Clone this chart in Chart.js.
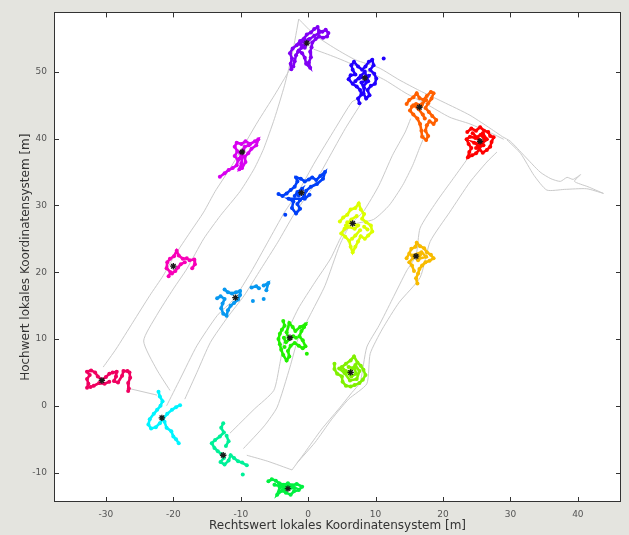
<!DOCTYPE html>
<html><head><meta charset="utf-8">
<script src="https://cdn.jsdelivr.net/npm/chart.js@4/dist/chart.umd.min.js"></script>
<style>html,body{margin:0;padding:0;background:#e4e4df;}#wrap{width:629px;height:535px;}</style>
</head><body><div id="wrap"><canvas id="c" width="629" height="535"></canvas></div>
<script>
// ---- axis ticks ----
const xTicks = [-30, -20, -10, 0, 10, 20, 30, 40];
const yTicks = [-10, 0, 10, 20, 30, 40, 50];
const xTitle = 'Rechtswert lokales Koordinatensystem [m]';
const yTitle = 'Hochwert lokales Koordinatensystem [m]';

// ---- cluster colours (16 stations) ----
const clusterColors = ['#8000f4','#2000ff','#ff6000','#ff0000','#d800f0','#0040f8','#dcff00','#f8bb00',
                       '#f800b8','#0898f0','#22f000','#80f000','#f00060','#00f4ff','#00f098','#00f040'];

// ---- station centres ----
const centers = [[-0.2,54.3],[8.4,49.1],[16.5,44.7],[25.5,39.6],[-9.8,38.0],[-1.0,31.9],[6.6,27.3],[16.0,22.4],
                 [-20.0,20.9],[-10.8,16.2],[-2.7,10.2],[6.3,5.0],[-30.6,3.8],[-21.7,-1.8],[-12.6,-7.4],[-3.0,-12.4]];

// ---- measured positions per station ----
const c01 = [[-2.5,50.4],[-2.6,51.2],[-2.4,52.0],[-2.7,52.8],[-2.3,53.5],[-1.7,54.0],[-1.2,54.6],[-0.6,55.0],[-0.2,55.6],[0.4,55.9],[0.9,56.4],[1.4,56.7],[1.6,56.1],[2.1,56.0],[2.6,56.3],[3.0,55.8],[2.8,55.3],[2.2,55.1],[1.6,55.3],[1.1,54.9],[0.6,54.4],[0.5,53.7],[0.3,53.0],[0.4,52.2],[0.1,51.4],[0.3,50.6],[-0.3,51.2],[-0.5,52.1],[-0.9,52.8],[-1.4,53.2],[-1.8,52.5],[-2.0,51.6],[-2.2,50.8],null,[-0.8,53.9],[-1.3,54.2],[-0.5,54.6],[0.0,54.8],[-0.5,53.6],null,[-1.5,53.0],[-1.0,53.6],[-0.4,54.2],[0.2,54.9],[0.9,55.4],[1.6,55.8]];
const c02 = [[7.6,45.3],[7.4,46.0],[7.9,46.6],[7.7,47.3],[7.2,47.8],[6.6,48.2],[6.0,48.9],[6.3,49.5],[7.0,49.6],[6.6,50.3],[6.4,51.0],[6.8,51.5],[7.4,50.8],[8.0,50.3],[8.5,50.8],[9.0,51.5],[9.5,51.8],[9.7,51.0],[9.2,50.3],[9.8,49.7],[10.1,49.0],[9.9,48.2],[9.3,47.9],[8.8,47.3],[9.1,46.5],[8.6,46.0],[8.2,46.8],[8.3,47.6],[7.9,48.4],[8.6,48.7],[9.0,49.4],[7.5,49.0],null,[7.0,48.6],[7.8,49.4],[8.4,50.0],[8.9,48.6],[8.2,47.9],null,[11.2,52.0]];
const c03 = [[14.6,45.2],[15.0,45.8],[15.6,46.2],[16.1,46.8],[16.5,46.1],[17.1,45.8],[17.6,46.4],[18.2,47.0],[18.6,46.8],[18.3,46.0],[17.8,45.3],[17.4,44.6],[17.9,44.0],[18.4,43.4],[19.0,42.8],[18.6,42.2],[18.0,42.6],[17.6,42.0],[17.4,41.2],[17.8,40.4],[17.5,39.8],[16.9,40.3],[16.8,41.2],[16.6,42.2],[16.2,43.0],[15.6,43.6],[15.1,44.2],[15.4,44.8],[16.0,45.2],[16.8,45.0],null,[15.6,45.0],[16.4,44.4],[17.0,43.6],[17.3,43.0],null,[16.9,45.2],[17.5,45.8]];
const c04 = [[23.6,41.0],[24.2,41.5],[24.9,41.2],[25.5,41.7],[26.1,41.2],[26.7,41.0],[27.0,40.4],[27.5,40.2],[27.2,39.5],[27.0,38.8],[26.5,38.3],[25.9,37.9],[25.4,38.4],[24.9,37.8],[24.3,37.5],[23.7,37.2],[23.9,38.0],[24.2,38.6],[23.8,39.2],[23.5,39.9],[24.0,40.3],[24.8,40.1],[25.6,40.6],[26.2,39.8],[25.2,39.0],[24.6,39.4],[26.0,39.0],null,[24.4,40.8],[25.2,40.0],[25.8,39.3],[26.5,39.9],[25.9,40.8],null,[24.9,38.6],[25.6,38.9]];
const c05 = [[-13.1,34.3],[-12.4,34.8],[-11.8,35.3],[-11.2,35.6],[-10.6,36.0],[-10.4,36.8],[-10.9,37.4],[-10.5,38.1],[-10.9,38.8],[-10.6,39.4],[-9.9,39.2],[-9.3,39.6],[-8.6,39.2],[-7.9,39.6],[-7.4,39.9],[-7.7,39.0],[-8.4,38.5],[-8.9,37.8],[-9.4,37.3],[-9.3,36.5],[-9.8,35.6],[-10.2,35.4],[-9.9,36.3],[-9.6,38.3],[-10.1,37.9],null,[-10.2,37.0],[-9.4,38.8],[-8.8,39.0]];
const c06 = [[-4.4,31.7],[-3.8,31.4],[-3.2,31.8],[-2.6,32.3],[-2.0,32.8],[-1.6,33.6],[-1.8,34.2],[-1.1,34.0],[-0.5,33.6],[0.1,33.9],[0.6,34.2],[1.2,33.8],[1.8,34.4],[2.5,35.0],[2.2,34.0],[1.3,33.2],[0.4,32.8],[-0.3,32.2],[-0.6,31.4],[-1.2,30.8],[-1.6,30.2],[-1.2,29.5],[-1.8,28.8],[-2.4,29.6],[-2.2,30.6],[-2.9,31.0],[-0.5,31.0],[0.2,31.6],null,[-1.4,31.5],[-0.9,32.5],[-1.6,32.0],[-2.0,31.4],null,[-3.4,28.6]];
const c07 = [[4.7,27.6],[5.2,28.2],[5.8,28.6],[6.3,29.4],[7.0,29.6],[7.5,30.3],[7.8,29.4],[8.3,28.7],[8.0,28.0],[8.6,27.5],[9.3,27.0],[9.5,26.1],[8.9,25.5],[8.4,25.0],[7.8,25.4],[7.4,24.6],[7.0,23.8],[6.6,23.0],[6.3,23.8],[6.1,24.7],[5.5,25.3],[4.9,25.8],[5.4,26.5],[6.0,26.8],[6.9,26.5],[7.4,27.0],[5.8,27.5],null,[5.6,27.0],[6.4,27.9],[7.2,28.4],null,[7.7,26.3],[7.0,25.5],[6.5,25.0],null,[8.3,26.8],[8.8,26.4]];
const c08 = [[14.6,22.1],[15.0,22.8],[15.3,23.5],[15.9,23.8],[16.1,24.4],[16.6,23.9],[17.2,23.6],[17.6,23.0],[18.2,22.6],[18.6,22.1],[18.0,21.7],[17.4,21.5],[16.9,21.0],[16.5,20.5],[16.3,19.8],[16.0,19.1],[16.2,18.3],null,[15.7,20.2],[15.4,21.0],[15.0,21.5],[15.6,22.2],[16.6,22.6],[16.3,21.8],null,[15.4,22.5],[16.8,23.0],[17.5,22.3],[16.4,22.0]];
const c09 = [[-20.7,19.4],[-20.4,20.0],[-21.0,20.6],[-20.9,21.5],[-20.5,22.0],[-19.9,22.4],[-19.5,23.2],[-19.2,22.5],[-18.6,22.0],[-18.0,22.1],null,[-17.6,21.8],[-16.9,21.9],[-16.8,21.2],[-17.2,20.6],null,[-18.3,21.5],[-18.9,21.2],[-19.3,20.7],[-19.7,20.2],[-20.2,19.8]];
const c10 = [[-13.5,16.1],[-13.0,16.4],[-12.4,16.0],[-12.7,15.3],[-12.9,14.6],[-12.6,13.8],[-12.1,13.5],[-11.9,14.3],[-11.5,15.0],[-11.0,15.4],[-10.4,15.9],[-10.1,16.6],[-10.1,17.2],[-10.7,17.0],[-11.3,16.8],[-11.9,17.0],[-12.4,17.4],null,[-8.4,17.7],[-7.7,17.9],[-7.3,17.6],null,[-6.6,18.0],[-5.9,18.4],[-6.2,17.3],null,[-6.6,16.0],null,[-8.2,15.7]];
const c11 = [[-3.7,12.7],[-3.5,12.0],[-3.9,11.4],[-4.2,10.8],[-4.4,10.0],[-4.2,9.2],[-4.0,8.4],[-3.7,7.6],[-3.2,6.8],[-2.8,7.4],[-3.0,8.2],[-2.6,9.0],[-2.0,9.4],[-1.4,9.0],[-0.8,8.6],[-0.4,8.9],[-0.8,9.8],[-1.3,10.4],[-1.0,11.2],[-0.6,11.8],[-0.4,12.2],[-1.2,11.8],[-1.9,11.2],[-2.3,11.8],[-2.8,12.4],[-3.2,11.0],[-2.9,10.1],null,[-3.6,10.2],[-3.3,9.5],[-2.2,10.4],[-1.8,10.2],null,[-3.5,8.8],null,[-0.2,7.8]];
const c12 = [[3.9,6.3],[3.9,5.5],[4.3,4.8],[5.0,4.4],[5.1,3.6],[5.6,3.0],[6.3,2.9],[6.9,3.1],[7.6,3.4],[8.1,3.9],[8.5,4.6],[8.2,5.4],[7.8,6.0],[7.3,6.5],[6.8,7.4],[6.3,6.8],[5.6,6.3],[5.0,5.8],[5.6,5.2],[6.4,4.4],[7.1,4.8],[6.9,5.6],[6.0,5.8],null,[4.6,5.6],[5.4,4.9],[6.2,3.8],[7.2,4.0],[7.6,5.2],[7.0,6.1],[6.1,5.1]];
const c13 = [[-32.8,2.7],[-32.6,3.3],[-32.8,4.0],[-32.4,4.6],[-32.8,5.1],[-32.2,5.3],[-31.6,5.0],[-31.2,4.4],[-30.6,3.9],[-30.0,4.3],[-29.5,4.8],[-29.0,5.0],[-28.4,5.1],[-28.5,4.4],[-28.8,3.7],[-28.2,3.5],[-27.6,4.5],[-27.4,5.2],[-26.8,5.2],[-26.5,5.0],[-26.4,4.2],[-26.7,3.4],[-26.6,2.6],[-26.7,2.2],null,[-29.5,3.6],[-30.2,3.3],[-31.0,3.4],[-31.8,3.0],[-32.3,2.8]];
const c14 = [[-22.2,2.1],[-22.0,1.4],[-21.6,0.7],[-21.9,0.0],[-22.4,-0.6],[-22.9,-1.2],[-23.5,-2.0],[-23.7,-2.8],[-23.3,-3.4],[-22.6,-3.2],[-22.0,-2.6],[-21.5,-1.9],[-20.9,-1.2],[-20.2,-0.6],[-19.6,-0.2],[-19.0,0.1],null,[-21.3,-2.4],[-21.0,-3.3],[-20.3,-3.8],[-20.0,-4.6],[-19.6,-5.0],[-19.2,-5.6]];
const c15 = [[-12.6,-2.6],[-12.9,-3.3],[-12.5,-4.0],[-13.1,-4.6],[-13.8,-5.1],[-14.3,-5.6],[-13.9,-6.3],[-13.4,-6.8],[-12.9,-7.2],[-12.5,-7.8],[-13.0,-8.4],[-12.4,-8.8],[-11.8,-8.2],[-11.5,-7.4],[-11.0,-7.8],[-10.4,-8.3],[-9.8,-8.5],[-9.1,-8.9],null,[-12.2,-6.0],[-11.8,-5.3],[-12.1,-4.5],null,[-9.7,-10.3]];
const c16 = [[-5.9,-11.3],[-5.4,-11.0],[-4.8,-11.2],[-4.3,-11.6],[-3.6,-11.8],[-3.0,-11.6],[-2.4,-11.9],[-1.7,-11.7],[-0.9,-12.1],[-1.4,-12.6],[-2.1,-12.8],[-2.6,-13.3],[-3.3,-13.0],[-3.9,-12.7],[-4.6,-13.3],[-4.2,-12.2],[-3.1,-12.3],[-5.0,-11.8],null,[-4.0,-11.9],[-2.8,-12.0],[-2.0,-12.3],[-3.6,-12.5]];
const clusters = [c01,c02,c03,c04,c05,c06,c07,c08,c09,c10,c11,c12,c13,c14,c15,c16];

// ---- walked tracks between stations ----
const trackA1 = [[-30.4,5.8],[-28.5,8.5],[-26,12.5],[-23.5,16.5],[-21.5,19.5],[-19.8,22.5],[-17.5,26],[-15.5,29],[-13.8,32.1],[-11.8,35.2],[-10,38.2],[-7.5,42.5],[-5,46.5],[-2.7,50.4]];
const trackA2 = [[-20.5,2.3],[-22.5,5.5],[-24.4,9.7],[-22.5,13.5],[-20,17.5],[-18,20.5],[-15.5,25],[-13,28.5],[-10.1,32.1],[-8,35.5],[-6.6,38.5],[-5,43],[-3.5,48],[-2.3,53],[-1.4,57.9]];
const trackB1 = [[-21,0],[-19,4],[-16.5,9],[-13.5,13.5],[-11,16],[-8.5,20],[-6,24.5],[-3.5,29],[-1.5,32],[1,36.5],[4,41.5],[6.5,45.5],[7.5,46]];
const trackB2 = [[-18.3,1.0],[-16.5,5],[-14.5,9.5],[-12,13.2],[-9.5,16.5],[-7,20.5],[-4.5,24.5],[-2.2,28.5],[0.5,32.5],[3,37],[5.5,41.5],[8,45.5]];
const trackC1 = [[-11.6,-4.1],[-8,-0.5],[-5.1,2.3],[-4.2,6.3],[-3.5,10],[-1.5,14.5],[1,18.5],[3.3,22],[5,25.5],[6.6,27.5],[8.2,29.1],[10.5,33],[12.5,37.5],[14.4,41],[15.2,43]];
const trackC2 = [[-9.6,-6.4],[-6.5,-3],[-4.6,-0.2],[-2.7,5.8],[-1.5,10],[0.5,14],[2.5,18],[4.7,24.1],[6.3,27],[9.7,27.9],[12,30],[14,33],[15.5,36],[16.6,38.8],[17.3,40.5]];
const trackD1 = [[-2.4,-9.6],[-0.5,-7],[2,-3.5],[4.5,-0.5],[6.5,2],[7.7,3.5],[8.7,8.8],[10.5,12],[12.5,16],[14.6,20.2],[16,22.5],[16.6,26.6],[19,30.5],[21.5,34],[24,37.5]];
const trackD2 = [[-1.7,-8.6],[1,-5.5],[3.5,-2],[6,1],[8.7,3.3],[9.2,7.8],[11,11.5],[13.5,15.5],[16.6,19.2],[18.1,24.6],[21,29],[24,33.5],[26.5,36.5],[28,38]];
const trackTop1 = [[-1.4,57.9],[1.0,55.5],[4,53.5],[7,51.8],[10.5,50.6],[13.5,48.8],[16.5,47.2],[20,45.5],[24,43.5],[27.5,41.2],[28.8,40.3]];
const trackTop2 = [[0.8,53.4],[4,52.2],[8,50.5],[11.5,48.7],[14.5,46.8],[17.5,45.2],[21,43.2],[24,42.2],[27.2,40.8],[29.0,39.9]];
const trackTail1 = [[28.8,40.3],[30,39.6],[32,37.5],[34.4,35.0],[36,34.0],[37.4,33.6],[38.4,34.2],[39.3,33.9],[40.4,34.6],[39.5,33.6],[41.5,32.8],[43.8,31.8]];
const trackTail2 = [[29.5,39.8],[31.5,37.8],[33.5,34.5],[35.4,32.3],[38,32.4],[41.3,32.5],[43.8,31.8]];
const trackBottom1 = [[-26.6,2.6],[-24.5,2.1],[-22.4,1.6]];
const trackBottom2 = [[-9.1,-7.4],[-6,-8.3],[-2.4,-9.6]];
const tracks = [trackA1,trackA2,trackB1,trackB2,trackC1,trackC2,trackD1,trackD2,trackTop1,trackTop2,trackTail1,trackTail2,trackBottom1,trackBottom2];

const toXY = arr => arr.map(p => p ? {x:p[0], y:p[1]} : {x:null, y:null});

const datasets = [];
tracks.forEach(t => datasets.push({
  data: toXY(t), showLine: true, borderColor: '#cacaca', borderWidth: 1,
  pointRadius: 0, tension: 0.2, order: 3
}));
clusters.forEach((c, i) => datasets.push({
  data: toXY(c), showLine: true, spanGaps: false, borderColor: clusterColors[i], borderWidth: 2.6,
  pointRadius: 2.0, pointBackgroundColor: clusterColors[i], pointBorderWidth: 0, order: 2
}));
datasets.push({
  data: toXY(centers), showLine: false, pointStyle: 'star', pointRadius: 3.2,
  borderColor: '#1a1a1a', pointBorderColor: '#1a1a1a', pointBorderWidth: 1.3, order: 1
});

const boxPlugin = {
  id: 'box',
  beforeDraw(chart) {
    const {ctx, chartArea: a} = chart;
    ctx.save(); ctx.fillStyle = '#ffffff';
    ctx.fillRect(a.left, a.top, a.right - a.left, a.bottom - a.top); ctx.restore();
  },
  afterDraw(chart) {
    const {ctx, chartArea: a, scales: {x, y}} = chart;
    ctx.save(); ctx.strokeStyle = '#333'; ctx.lineWidth = 1; ctx.beginPath();
    x.ticks.forEach(t => { const p = Math.round(x.getPixelForValue(t.value)) + 0.5;
      ctx.moveTo(p, a.bottom); ctx.lineTo(p, a.bottom - 5); ctx.moveTo(p, a.top); ctx.lineTo(p, a.top + 5); });
    y.ticks.forEach(t => { const p = Math.round(y.getPixelForValue(t.value)) + 0.5;
      ctx.moveTo(a.left, p); ctx.lineTo(a.left + 5, p); ctx.moveTo(a.right, p); ctx.lineTo(a.right - 5, p); });
    ctx.stroke();
    ctx.strokeRect(Math.round(a.left) + 0.5, Math.round(a.top) + 0.5, Math.round(a.right - a.left) - 1, Math.round(a.bottom - a.top) - 1);
    ctx.restore();
  }
};

new Chart(document.getElementById('c'), {
  type: 'scatter',
  data: { datasets },
  plugins: [boxPlugin],
  options: {
    responsive: false, animation: false, devicePixelRatio: 1,
    layout: { padding: { top: 10, right: 8, left: 0, bottom: 0 } },
    plugins: { legend: { display: false }, tooltip: { enabled: false } },
    scales: {
      x: {
        type: 'linear', min: -37.7, max: 46.4,
        afterBuildTicks: s => { s.ticks = xTicks.map(v => ({value: v})); },
        afterFit: s => { s.height = 33; },
        grid: { display: false, drawTicks: false },
        border: { display: false },
        ticks: { padding: 7, color: '#555', font: { family: 'DejaVu Sans', size: 9 } },
        title: { display: true, text: xTitle, color: '#333', padding: { top: 0, bottom: 2 },
                 font: { family: 'DejaVu Sans', size: 12 } }
      },
      y: {
        type: 'linear', min: -14.4, max: 58.9,
        afterBuildTicks: s => { s.ticks = yTicks.map(v => ({value: v})); },
        afterFit: s => { s.width = 54; },
        grid: { display: false, drawTicks: false },
        border: { display: false },
        ticks: { padding: 7, color: '#555', font: { family: 'DejaVu Sans', size: 9 } },
        title: { display: true, text: yTitle, color: '#333', padding: { top: 19, bottom: 0 },
                 font: { family: 'DejaVu Sans', size: 12 } }
      }
    }
  }
});
</script></body></html>
